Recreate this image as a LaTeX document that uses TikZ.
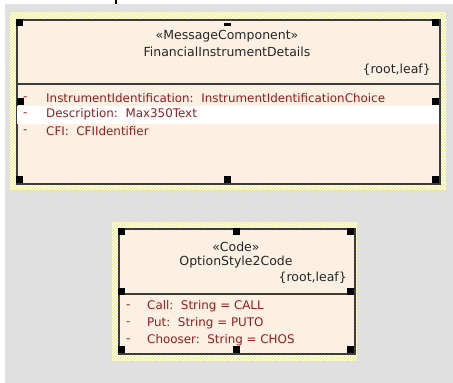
\documentclass[tikz,border=0pt]{standalone}
\usepackage{fontspec}
\setmainfont{DejaVu Sans}
\usepackage{tikz}
\usetikzlibrary{patterns,positioning,calc}

\definecolor{umlfill}{HTML}{FBF0E2}
\definecolor{umlgray}{HTML}{E0E0E0}
\definecolor{umlline}{HTML}{3C3C3C}
\definecolor{attrred}{HTML}{9A1C1C}
\definecolor{hatchyellow}{HTML}{F0E84A}

\begin{document}
\begin{tikzpicture}[x=1pt,y=-1pt,font=\fontsize{12.5}{14}\selectfont]
  \tikzstyle{selframe}=[pattern=north east lines,pattern color=hatchyellow]
  \tikzstyle{classbox}=[draw=umlline,fill=umlfill,line width=1.5pt,inner sep=0pt,anchor=north west]
  \tikzstyle{handle}=[fill=black,inner sep=0pt,minimum size=7pt]
  \tikzstyle{title}=[text=black!85,inner sep=0pt]
  \tikzstyle{attr}=[text=attrred,inner sep=0pt,anchor=west,font=\fontsize{11.9}{14}\selectfont]

  \useasboundingbox (0,0) rectangle (453,383);
  \fill[white] (0,0) rectangle (453,383);
  \fill[umlgray] (5,4) rectangle (453,383);

  % connector stub from above
  \coordinate (stubtop) at (116,0);
  \coordinate (stubend) at (116,4);
  \draw[line width=2pt] (stubtop) -- (stubend);

  % FinancialInstrumentDetails
  \fill[white] (10,12) rectangle (446,190);
  \fill[selframe] (10,12) rectangle (446,190);
  \node[classbox,minimum width=423pt,minimum height=164pt] (fid) at (16,19) {};
  \draw[umlline,line width=1.5pt] (fid.west |- 0,84) -- (fid.east |- 0,84);
  \fill[white] (17,106) rectangle (439,124);

  \node[title] (fidstereo) at (227,36) {«MessageComponent»};
  \node[title] (fidname)   at (227,52) {FinancialInstrumentDetails};
  \node[title,anchor=east] (fidprops) at (431,70) {\{root,leaf\}};

  \node[attr] (fiddasha) at (23,99)  {-};
  \node[attr] (fidattra) at (46,98)  {InstrumentIdentification:\ \ InstrumentIdentificationChoice};
  \node[attr] (fiddashb) at (23,115) {-};
  \node[attr] (fidattrb) at (46,114) {Description:\ \ Max350Text};
  \node[attr] (fiddashc) at (23,132) {-};
  \node[attr] (fidattrc) at (46,131) {CFI:\ \ CFIIdentifier};

  \node[handle] (fidnw) at (19.5,22.5)  {};
  \node[handle] (fidne) at (435.5,22.5) {};
  \node[handle] (fidsw) at (19.5,179.5) {};
  \node[handle] (fidse) at (435.5,179.5){};
  \node[handle,minimum height=3.5pt] (fidn) at (227.5,24.5) {};
  \node[handle] (fidw)  at (20,101)    {};
  \node[handle] (fide)  at (435.5,101)  {};
  \node[handle] (fids)  at (227.5,179.5){};

  % OptionStyle2Code
  \fill[white] (112,222) rectangle (357,361);
  \fill[selframe] (112,222) rectangle (357,361);
  \node[classbox,minimum width=236pt,minimum height=125pt] (osc) at (118,228) {};
  \draw[umlline,line width=1.5pt] (osc.west |- 0,294) -- (osc.east |- 0,294);

  \node[title] (oscstereo) at (236,247) {«Code»};
  \node[title] (oscname)   at (236,262) {OptionStyle2Code};
  \node[title,anchor=east] (oscprops) at (347,278) {\{root,leaf\}};

  \node[attr] (oscdasha) at (126,307) {-};
  \node[attr] (oscattra) at (147,306) {Call:\ \ String = CALL};
  \node[attr] (oscdashb) at (126,324) {-};
  \node[attr] (oscattrb) at (147,323) {Put:\ \ String = PUTO};
  \node[attr] (oscdashc) at (126,341) {-};
  \node[attr] (oscattrc) at (147,340) {Chooser:\ \ String = CHOS};

  \node[handle] (oscnw) at (121.5,231.5) {};
  \node[handle] (oscne) at (350.5,231.5) {};
  \node[handle] (oscsw) at (121.5,349.5) {};
  \node[handle] (oscse) at (350.5,349.5) {};
  \node[handle] (oscn)  at (236,231.5)   {};
  \node[handle] (oscw)  at (121.5,291)   {};
  \node[handle] (osce)  at (350.5,291)   {};
  \node[handle] (oscs)  at (236,349.5)   {};
\end{tikzpicture}
\end{document}
